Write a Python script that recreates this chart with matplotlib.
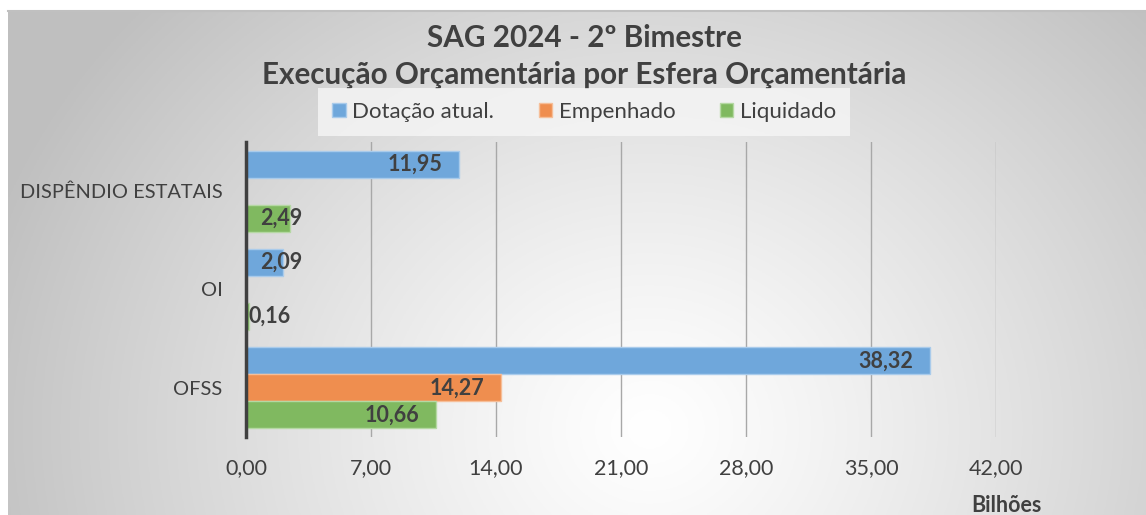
import numpy as np
import matplotlib.pyplot as plt
from matplotlib.patches import Patch

plt.rcParams['font.family'] = ['Lato', 'DejaVu Sans']

categorias = ['OFSS', 'OI', 'DISPÊNDIO ESTATAIS']
dotacao = [38.32, 2.09, 11.95]
empenhado = [14.27, np.nan, np.nan]
liquidado = [10.66, 0.16, 2.49]
series = ['Dotação atual.', 'Empenhado', 'Liquidado']
ticks = [0, 7, 14, 21, 28, 35, 42]

cores = ['#6FA7DB', '#EF8E4F', '#80B960']
bordas = ['#A9CBEB', '#F6BE98', '#B5D8A3']
texto = '#404040'

fig = plt.figure(figsize=(11.46, 5.15), dpi=100)
fig.patch.set_facecolor('white')

# fundo com gradiente radial
bg = fig.add_axes([8 / 1146, 0, 1 - 8 / 1146, 1 - 11 / 515])
bg.set_axis_off()
xx, yy = np.meshgrid(np.linspace(8, 1146, 400), np.linspace(11, 515, 200))
d = np.sqrt(((xx - 650) / 560) ** 2 + ((yy - 430) / 500) ** 2)
g = 1 - 0.25 * (np.clip(d, 0, 1.25) / 1.25) ** 1.2
bg.imshow(np.dstack([g, g, g]), aspect='auto', extent=[0, 1, 0, 1])
fig.add_artist(plt.Line2D([8 / 1146, 1], [1 - 11 / 515] * 2, color='#c0c0c0', lw=1.5))

ax = fig.add_axes([246 / 1146, 78 / 515, 750 / 1146, 295 / 515])
ax.patch.set_alpha(0)

y = np.arange(len(categorias))
h = 0.275
for i, vals in enumerate([dotacao, empenhado, liquidado]):
    pos = y + h * (1 - i)
    ax.barh(pos, vals, height=h, color=cores[i], edgecolor=bordas[i], lw=1, zorder=3)
    for p, v in zip(pos, vals):
        if np.isnan(v):
            continue
        lab = f'{v:.2f}'.replace('.', ',')
        if v > 3:
            ax.annotate(lab, (v, p), xytext=(-12, 0), textcoords='offset points',
                        ha='right', va='center', fontsize=15.5, fontweight='bold',
                        color=texto, zorder=4)
        else:
            ax.text(min(v, 0.8), p, lab, ha='left', va='center', fontsize=15.5,
                    fontweight='bold', color=texto, zorder=4)

ax.set_xlim(0, 42)
ax.set_ylim(-0.5, 2.5)
ax.set_xticks(ticks)
ax.set_xticklabels([f'{t:.2f}'.replace('.', ',') for t in ticks])
ax.set_yticks(y)
ax.set_yticklabels(categorias)
ax.tick_params(axis='x', length=0, pad=15, labelsize=15.5, labelcolor=texto)
ax.tick_params(axis='y', length=0, pad=17, labelsize=14.4, labelcolor=texto)
ax.grid(axis='x', color='#a8a8a8', lw=1, zorder=1)
for s in ['top', 'right', 'bottom']:
    ax.spines[s].set_visible(False)
ax.spines['left'].set_color(texto)
ax.spines['left'].set_linewidth(2.5)
ax.spines['left'].set_zorder(5)

fig.text(1006 / 1146, 1 - 505 / 515, 'Bilhões', ha='center', va='center',
         fontsize=15.5, fontweight='bold', color=texto)

fig.text(584 / 1146, 1 - 38 / 515, 'SAG 2024 - 2º Bimestre', ha='center', va='center',
         fontsize=21.3, fontweight='bold', color=texto)
fig.text(584 / 1146, 1 - 75 / 515, 'Execução Orçamentária por Esfera Orçamentária',
         ha='center', va='center', fontsize=21.3, fontweight='bold', color=texto)

handles = [Patch(facecolor=cores[i], edgecolor=bordas[i]) for i in range(3)]
leg = fig.legend(handles, series, loc='center', bbox_to_anchor=(584 / 1146, 1 - 112 / 515),
                 ncol=3, frameon=True, fontsize=16, handlelength=0.6, handleheight=0.6,
                 handletextpad=0.3, columnspacing=2.0, borderpad=0.35)
leg.get_frame().set_facecolor('#f6f6f6')
leg.get_frame().set_edgecolor('none')
leg.get_frame().set_boxstyle('square')
for t in leg.get_texts():
    t.set_color(texto)

fig.savefig('out.png', dpi=100)
